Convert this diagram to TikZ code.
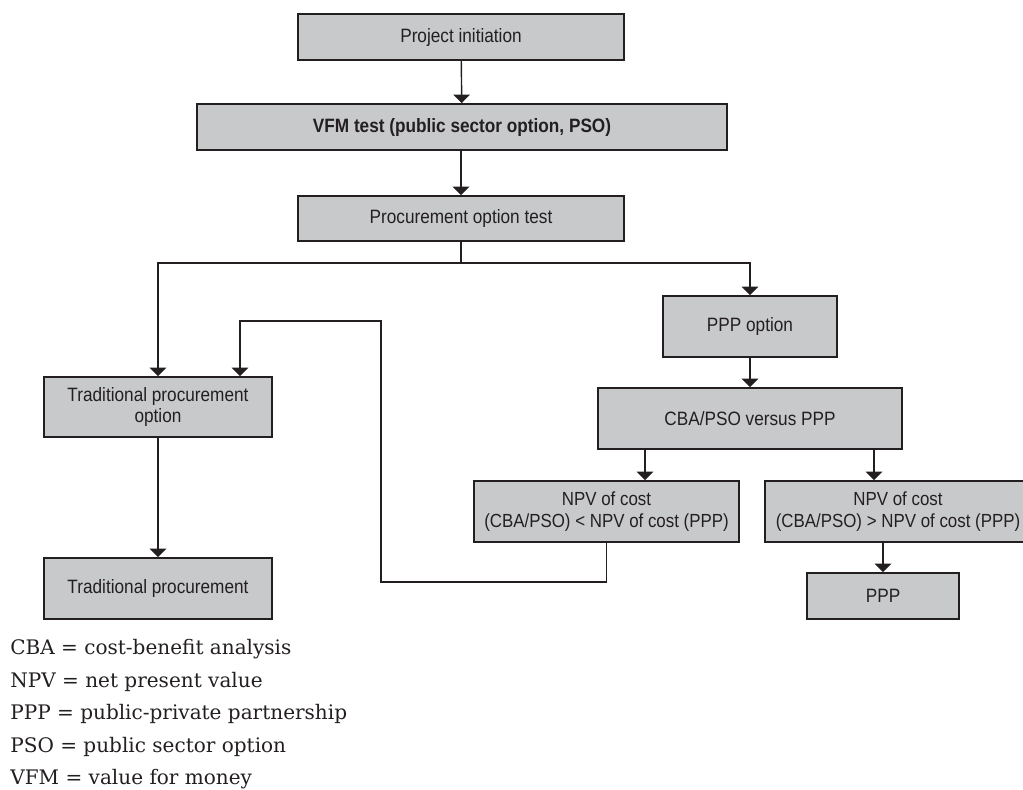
\documentclass[tikz,border=0pt]{standalone}
\usepackage{fontspec}
\setmainfont{Liberation Sans}[FakeStretch=0.89]
\newfontfamily\legendfont{DejaVu Serif}
\usetikzlibrary{arrows.meta}
\definecolor{boxgray}{RGB}{200,201,203}
\definecolor{linegray}{RGB}{35,31,32}
\tikzset{
  stepbox/.style={draw=linegray, line width=1.1pt, fill=boxgray, text=linegray,
    align=center, inner sep=0pt, font=\fontsize{11}{12.5}\selectfont},
  npvbox/.style={stepbox, minimum width=5.3cm, minimum height=1.22cm,
    font=\fontsize{10.8}{12.5}\selectfont},
  flow/.style={draw=linegray, line width=0.8pt, -{Triangle[width=9.4pt,length=4.8pt]}},
  link/.style={draw=linegray, line width=0.8pt}
}

\begin{document}
\begin{tikzpicture}[x=0.02cm, y=-0.02cm]
        \useasboundingbox (0,0) rectangle (1023,789);
        % boxes
        \node[stepbox, minimum width=6.52cm, minimum height=0.92cm] (init) at (461,37) {Project initiation};
        \node[stepbox, minimum width=10.6cm, minimum height=0.92cm, font=\fontsize{11}{12.5}\selectfont\bfseries] (vfm) at (462,127) {VFM test (public sector option, PSO)};
        \node[stepbox, minimum width=6.52cm, minimum height=0.9cm] (proc) at (461,218.5) {Procurement option test};
        \node[stepbox, minimum width=3.48cm, minimum height=1.22cm] (pppopt) at (750,326.5) {PPP option};
        \node[stepbox, minimum width=6.08cm, minimum height=1.22cm] (cba) at (750,418.5) {CBA/PSO versus PPP};
        \node[npvbox] (npvlt) at (606.5,511.5) {NPV of cost\\(CBA/PSO) < NPV of cost (PPP)};
        \node[npvbox, minimum width=5.32cm] (npvgt) at (898,511.5) {NPV of cost\\(CBA/PSO) > NPV of cost (PPP)};
        \node[stepbox, minimum width=3.04cm, minimum height=0.92cm] (ppp) at (883,596) {PPP};
        \node[stepbox, minimum width=4.56cm, minimum height=1.2cm] (tradopt) at (158,407) {Traditional procurement\\option};
        \node[stepbox, minimum width=4.56cm, minimum height=1.22cm] (trad) at (158,588.5) {Traditional procurement};

        % connectors
        \coordinate (fork) at (461,263);
        \coordinate (splitL) at (645,0);
        \coordinate (splitR) at (874,0);
        \coordinate (loopR) at (381,582);
        \coordinate (loopT) at (240,321);
        \draw[flow] (init) -- (vfm);
        \draw[flow] (vfm.south -| init) -- (proc);
        \draw[link] (proc.south) -- (fork);
        \draw[flow] (fork) -| (tradopt.north);
        \draw[flow] (fork) -| (pppopt.north);
        \draw[flow] (pppopt) -- (cba);
        \draw[flow] (cba.south -| splitL) -- (npvlt.north -| splitL);
        \draw[flow] (cba.south -| splitR) -- (npvgt.north -| splitR);
        \draw[flow] (npvgt.south -| ppp.north) -- (ppp.north);
        \draw[flow] (npvlt.south) |- (loopR) |- (loopT) -- (loopT |- tradopt.north);
        \draw[flow] (tradopt) -- (trad);

        % key
        \node[anchor=north west, inner sep=0pt, align=left, text=linegray,
              font=\legendfont\fontsize{11.4}{18.5}\selectfont] (key) at (10,639)
              {CBA = cost-benefit analysis\\
               NPV = net present value\\
               PPP = public-private partnership\\
               PSO = public sector option\\
               VFM = value for money};
\end{tikzpicture}
\end{document}
